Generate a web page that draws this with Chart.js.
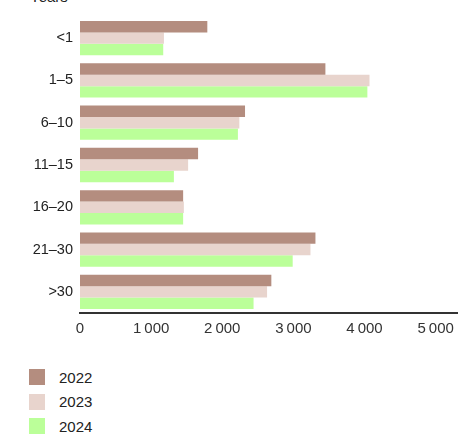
<!DOCTYPE html>
<html>
<head>
<meta charset="utf-8">
<script src="https://cdn.jsdelivr.net/npm/chart.js@4"></script>
<style>
  body { margin: 0; background: #fff; font-family: "Liberation Sans", Arial, sans-serif; }
  #wrap { position: relative; width: 469px; height: 435px; overflow: hidden; }
  #unit { position: absolute; left: 30px; top: -12px; font-size: 15px; color: #222; }
  #box { position: absolute; left: 0; top: 0; width: 469px; height: 345px; }
  #legend { position: absolute; left: 29px; top: 365px; }
  .item { display: flex; align-items: center; height: 24.5px; font-size: 15px; color: #222; }
  .sw { width: 16px; height: 16px; margin-right: 14px; }
</style>
</head>
<body>
<div id="wrap">
  <div id="unit">Years</div>
  <div id="box"><canvas id="chart"></canvas></div>
  <div id="legend"></div>
</div>
<script>
// categories (years)
const categorias = ['<1', '1–5', '6–10', '11–15', '16–20', '21–30', '>30'];
const series = ['2022', '2023', '2024'];
const valores2022 = [1790, 3450, 2320, 1660, 1450, 3310, 2690];
const valores2023 = [1180, 4070, 2240, 1520, 1460, 3240, 2630];
const valores2024 = [1170, 4040, 2220, 1320, 1450, 2990, 2440];
const ticksX = [0, 1000, 2000, 3000, 4000, 5000];
const colores = ['#b48d7f', '#e8d4cd', '#bbff99'];

const datos = [valores2022, valores2023, valores2024];

// leyenda vertical
const legend = document.getElementById('legend');
series.forEach((s, i) => {
  legend.innerHTML += `<div class="item"><span class="sw" style="background:${colores[i]}"></span>${s}</div>`;
});

function fmt(v) {
  return v >= 1000 ? Math.floor(v / 1000) + '\u2009' + String(v % 1000).padStart(3, '0') : String(v);
}

new Chart(document.getElementById('chart'), {
  type: 'bar',
  data: {
    labels: categorias,
    datasets: series.map((s, i) => ({
      label: s,
      data: datos[i],
      backgroundColor: colores[i],
      borderWidth: 0,
      barPercentage: 1,
      categoryPercentage: 0.81
    }))
  },
  options: {
    indexAxis: 'y',
    responsive: true,
    maintainAspectRatio: false,
    animation: false,
    layout: { padding: { top: 17, right: 12, left: 0, bottom: 0 } },
    plugins: { legend: { display: false }, tooltip: { enabled: false } },
    scales: {
      x: {
        min: 0,
        max: 5300,
        afterBuildTicks: s => { s.ticks = ticksX.map(v => ({ value: v })); },
        afterFit: s => { s.height = 32; },
        grid: { display: false, drawTicks: false },
        border: { display: true, color: '#333', width: 2 },
        ticks: {
          padding: 7,
          color: '#333',
          font: { family: '"Liberation Sans", Arial, sans-serif', size: 15 },
          callback: v => fmt(v)
        }
      },
      y: {
        afterFit: s => { s.width = 80; },
        grid: { display: false, drawTicks: false },
        border: { display: false },
        ticks: {
          padding: 7,
          color: '#222',
          font: { family: '"Liberation Sans", Arial, sans-serif', size: 14.5 }
        }
      }
    }
  }
});
</script>
</body>
</html>
